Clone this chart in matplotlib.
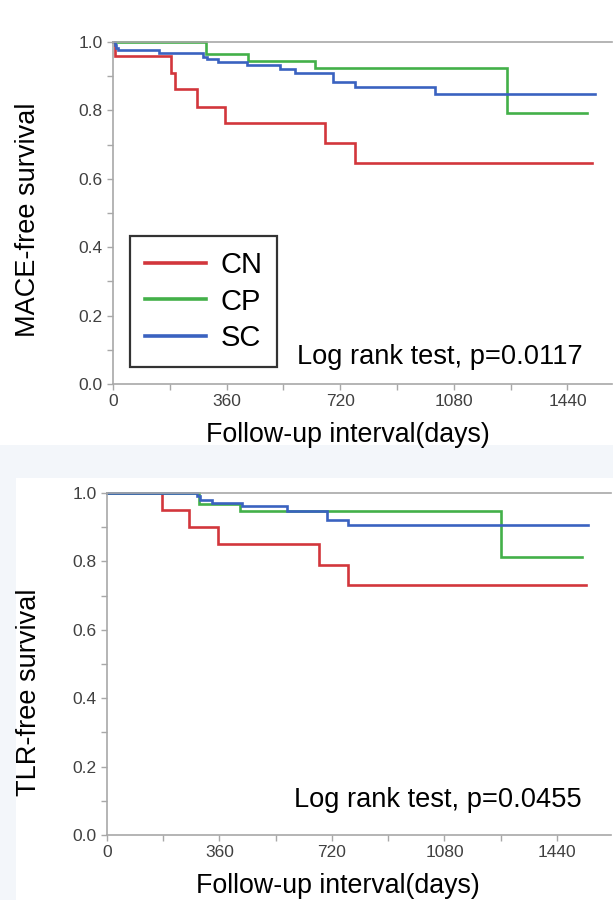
import matplotlib
matplotlib.use("Agg")
import matplotlib.pyplot as plt
from matplotlib.patches import Rectangle
from matplotlib.ticker import FixedLocator

# survival curves (days, survival)
groups = ["CN", "CP", "SC"]
colors = ["#d2363c", "#43b049", "#3a62c0"]

# MACE-free survival
mace_cn_t = [0, 6, 183, 196, 267, 355, 672, 767, 1517]
mace_cn_s = [1.0, 0.959, 0.908, 0.862, 0.811, 0.764, 0.704, 0.645, 0.645]
mace_cp_t = [0, 295, 429, 640, 1249, 1503]
mace_cp_s = [1.0, 0.965, 0.945, 0.925, 0.793, 0.793]
mace_sc_t = [0, 5, 10, 16, 147, 286, 299, 334, 424, 529, 577, 696, 767, 1020, 1527]
mace_sc_s = [1.0, 0.99, 0.982, 0.976, 0.967, 0.957, 0.949, 0.942, 0.933, 0.920, 0.910, 0.884, 0.869, 0.847, 0.847]
mace_p = "Log rank test, p=0.0117"

# TLR-free survival
tlr_cn_t = [0, 175, 264, 354, 677, 771, 1532]
tlr_cn_s = [1.0, 0.951, 0.902, 0.850, 0.790, 0.730, 0.730]
tlr_cp_t = [0, 293, 426, 1260, 1521]
tlr_cp_s = [1.0, 0.968, 0.947, 0.813, 0.813]
tlr_sc_t = [0, 287, 298, 335, 432, 576, 704, 770, 1539]
tlr_sc_s = [1.0, 0.99, 0.98, 0.971, 0.961, 0.947, 0.922, 0.907, 0.907]
tlr_p = "Log rank test, p=0.0455"

xticks = [0, 360, 720, 1080, 1440]
yticks = [0.0, 0.2, 0.4, 0.6, 0.8, 1.0]

W, H = 613, 900
fig = plt.figure(figsize=(W / 100, H / 100), dpi=100, facecolor="#f3f6fa")

def fx(px):
    return px / W

def fy(py):
    return 1 - py / H

# white panels like the pasted screenshots
fig.patches.append(Rectangle((0, fy(445)), 1, 445 / H, transform=fig.transFigure,
                             facecolor="white", edgecolor="none", zorder=-5))
fig.patches.append(Rectangle((fx(16), 0), 1 - fx(16), fy(478), transform=fig.transFigure,
                             facecolor="white", edgecolor="none", zorder=-5))

lab_font = "Liberation Sans"
spine_col = "#a8a8a8"


def km_panel(left, right, top, bottom, xmax, curves, ylabel, ptext, ptext_pos,
             ylab_pos, xlab_pos, legend=False):
    ax = fig.add_axes([fx(left), fy(bottom), fx(right - left), (bottom - top) / H])
    ax.set_facecolor("none")
    for (t, s), c, g in zip(curves, colors, groups):
        ax.step(t, s, where="post", color=c, lw=1.9, label=g, solid_joinstyle="miter",
                clip_on=False)
    ax.set_xlim(0, xmax)
    ax.set_ylim(0, 1.0)
    ax.xaxis.set_major_locator(FixedLocator(xticks))
    ax.xaxis.set_minor_locator(FixedLocator([180, 540, 900, 1260]))
    ax.yaxis.set_major_locator(FixedLocator(yticks))
    ax.yaxis.set_minor_locator(FixedLocator([0.1, 0.3, 0.5, 0.7, 0.9]))
    ax.set_xticklabels([str(v) for v in xticks])
    ax.set_yticklabels(["%.1f" % v for v in yticks])
    ax.tick_params(which="both", direction="out", length=4.5, width=1, color=spine_col,
                   labelcolor="#404040", labelsize=12.5)
    ax.tick_params(axis="x", pad=3)
    ax.tick_params(axis="y", pad=3)
    for lbl in ax.get_xticklabels() + ax.get_yticklabels():
        lbl.set_fontfamily(lab_font)
    ax.spines["right"].set_visible(False)
    for sp in ["left", "bottom", "top"]:
        ax.spines[sp].set_color(spine_col)
        ax.spines[sp].set_linewidth(1.2)
    fig.text(fx(ylab_pos[0]), fy(ylab_pos[1]), ylabel, rotation=90, ha="center", va="center",
             fontsize=19.5, family=lab_font, color="black")
    fig.text(fx(xlab_pos[0]), fy(xlab_pos[1]), "Follow-up interval(days)", ha="center",
             va="baseline", fontsize=19.3, family=lab_font, color="black")
    fig.text(fx(ptext_pos[0]), fy(ptext_pos[1]), ptext, ha="right", va="baseline",
             fontsize=19.6, family=lab_font, color="black")
    if legend:
        leg = ax.legend(loc="lower left", bbox_to_anchor=(0.034, 0.05), borderaxespad=0,
                        fancybox=False, frameon=True, handlelength=2.1, handletextpad=0.5,
                        labelspacing=0.3, borderpad=0.5,
                        prop={"family": lab_font, "size": 21})
        leg.get_frame().set_edgecolor("black")
        leg.get_frame().set_linewidth(1.6)
        for ln in leg.get_lines():
            ln.set_linewidth(2.6)
    return ax


km_panel(113, 612, 42, 384, 1581,
         [(mace_cn_t, mace_cn_s), (mace_cp_t, mace_cp_s), (mace_sc_t, mace_sc_s)],
         "MACE-free survival", mace_p, (583, 364), (28, 220), (348, 442), legend=True)

km_panel(107, 611, 493, 835, 1613,
         [(tlr_cn_t, tlr_cn_s), (tlr_cp_t, tlr_cp_s), (tlr_sc_t, tlr_sc_s)],
         "TLR-free survival", tlr_p, (582, 807), (29, 692), (338, 893))

fig.savefig("out.png", dpi=100, facecolor=fig.get_facecolor())
